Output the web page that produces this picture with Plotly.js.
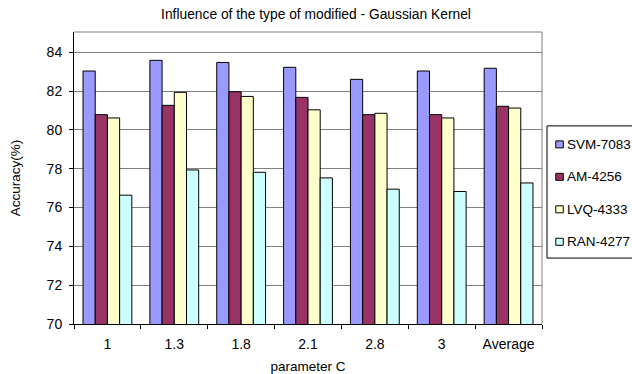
<!DOCTYPE html>
<html>
<head>
<meta charset="utf-8">
<script src="https://cdn.plot.ly/plotly-3.0.1.min.js"></script>
<style>html,body{margin:0;padding:0;background:#fff;overflow:hidden;}#chart{width:632px;height:374px;}</style>
</head>
<body>
<div id="chart"></div>
<script>
var categories = ["1", "1.3", "1.8", "2.1", "2.8", "3", "Average"];
var seriesNames = ["SVM-7083", "AM-4256", "LVQ-4333", "RAN-4277"];
var svm = [83.04, 83.59, 83.48, 83.23, 82.61, 83.04, 83.18];
var am  = [80.79, 81.27, 81.97, 81.68, 80.79, 80.79, 81.22];
var lvq = [80.62, 81.94, 81.73, 81.04, 80.86, 80.62, 81.13];
var ran = [76.64, 77.94, 77.82, 77.53, 76.95, 76.83, 77.27];
var yTicks = [70, 72, 74, 76, 78, 80, 82, 84];

var colors = ["#9999FF", "#993366", "#FFFFCC", "#CCFFFF"];
var values = [svm, am, lvq, ran];
var font = "Liberation Sans, Arial, sans-serif";

// plot-area geometry in pixels (style only)
var W = 632, H = 374;
var L = 73.5, R = 541.7, T = 32, B = 324.3;
function px(X) { return (X - L) / (R - L); }
function py(Y) { return (B - Y) / (B - T); }

var data = values.map(function (v, i) {
  return {
    type: "bar",
    x: categories,
    y: v,
    name: seriesNames[i],
    marker: {color: colors[i], line: {color: "#000000", width: 1}},
    showlegend: false,
    hoverinfo: "x+y+name"
  };
});

// manual legend (Excel style, box runs off the right edge)
var shapes = [
  {type: "line", xref: "paper", yref: "paper", x0: 0, x1: 1, y0: 1, y1: 1, line: {color: "#808080", width: 1}},
  {type: "line", xref: "paper", yref: "paper", x0: 1, x1: 1, y0: 0, y1: 1, line: {color: "#808080", width: 1}},
  {type: "rect", xref: "paper", yref: "paper", x0: px(546.7), x1: px(645), y0: py(258.3), y1: py(126),
   line: {color: "#000", width: 1}, fillcolor: "#fff", layer: "above"}
];
var annotations = [];
var rowY = [144.5, 177, 209.5, 242];
seriesNames.forEach(function (n, i) {
  shapes.push({type: "rect", xref: "paper", yref: "paper",
    x0: px(555.5), x1: px(563), y0: py(rowY[i] + 3.5), y1: py(rowY[i] - 3.5),
    line: {color: "#000", width: 1}, fillcolor: colors[i], layer: "above"});
  annotations.push({xref: "paper", yref: "paper", x: px(565), y: py(rowY[i]),
    xanchor: "left", yanchor: "middle", showarrow: false, text: n,
    font: {family: font, size: 13.5, color: "#000"}});
});

var layout = {
  width: W,
  height: H,
  margin: {l: L, r: W - R, t: T, b: H - B, autoexpand: false},
  paper_bgcolor: "#ffffff",
  plot_bgcolor: "#ffffff",
  font: {family: font, size: 13, color: "#000000"},
  title: {text: "Influence of the type of modified - Gaussian Kernel", font: {family: font, size: 13.8, color: "#000"}, x: 0.5, xanchor: "center", xref: "container", y: 1 - 14.5 / H, yanchor: "middle", yref: "container"},
  barmode: "group",
  bargap: 0.27,
  bargroupgap: 0,
  xaxis: {
    type: "category",
    title: {text: "parameter C", font: {family: font, size: 13.5}, standoff: 13},
    showline: true, linecolor: "#000", linewidth: 1,
    ticks: "outside", ticklen: 4, tickcolor: "#000",
    tickson: "boundaries",
    ticklabelstandoff: 7,
    showgrid: false, zeroline: false,
    tickfont: {family: font, size: 14}
  },
  yaxis: {
    range: [70, 85.05],
    tickvals: yTicks,
    ticktext: yTicks.map(String),
    title: {text: "Accuracy(%)", font: {family: font, size: 13.5}, standoff: 22},
    showline: true, linecolor: "#000", linewidth: 1,
    ticks: "outside", ticklen: 4, tickcolor: "#000",
    ticklabelstandoff: 4,
    showgrid: true, gridcolor: "#808080", gridwidth: 1,
    zeroline: false,
    tickfont: {family: font, size: 14}
  },
  shapes: shapes,
  annotations: annotations,
  showlegend: false
};

Plotly.newPlot("chart", data, layout, {displayModeBar: false, staticPlot: true});
</script>
</body>
</html>
